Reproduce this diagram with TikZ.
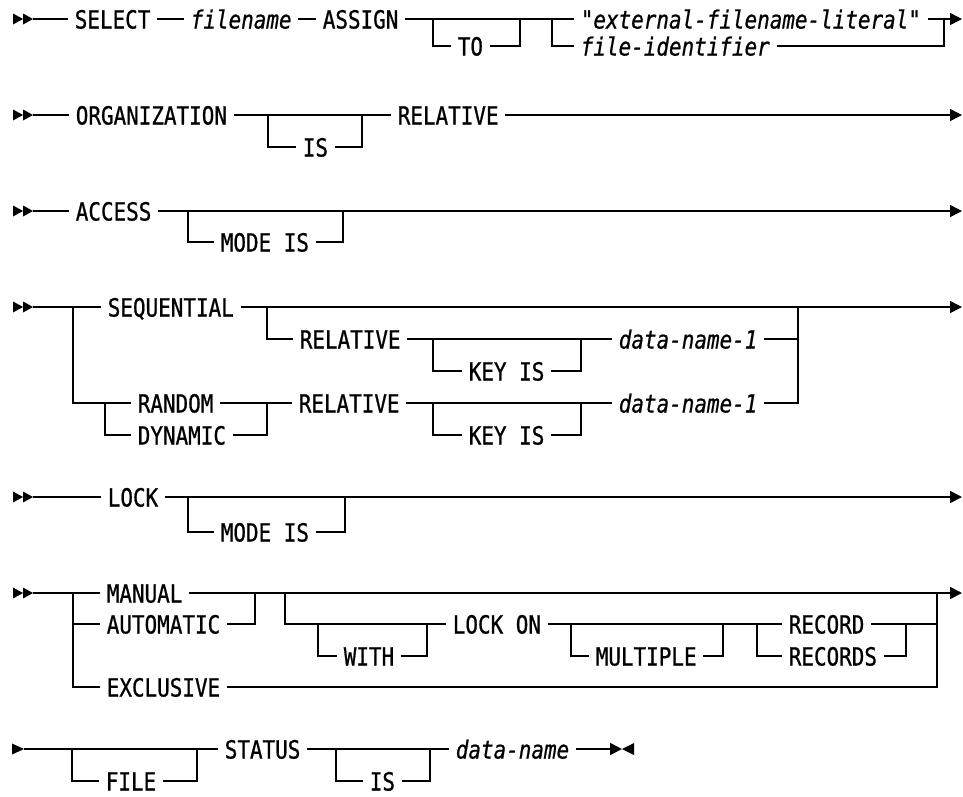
\documentclass[tikz,border=0pt]{standalone}
\usepackage{fontspec}
\newfontfamily\rrfont[FakeStretch=0.837, FakeBold=0.8, ItalicFont={DejaVu Sans Mono Oblique}]{DejaVu Sans Mono}
\usetikzlibrary{arrows.meta}
\begin{document}
\begin{tikzpicture}[x=1pt,y=-1pt, line width=1.6pt,
  kw/.style={anchor=west, inner xsep=6pt, inner ysep=0pt, text height=19pt, text depth=0pt,
             font=\rrfont\fontsize{25}{25}\selectfont},
  var/.style={kw, font=\rrfont\itshape\fontsize{25}{25}\selectfont},
  endarrow/.style={-{Triangle[length=12pt,width=12pt]}},
  dstart/.pic={\fill (0,-5.5) -- (10,0) -- (0,5.5) -- cycle;
               \fill (10,-5.5) -- (20,0) -- (10,5.5) -- cycle;},
  sstart/.pic={\fill (0,-5.5) -- (12,0) -- (0,5.5) -- cycle;},
  bowend/.pic={\fill (0,0) -- (12,-6) -- (12,6) -- cycle;}]
\useasboundingbox (0,0) rectangle (963,796);

% ---------------- Row 1
\pic at (13,19) {dstart};
\coordinate (r1s) at (33,19);
\node[kw] (select) at (68,19) {SELECT};
\node[var] (fname) at (184,19) {filename};
\node[kw] (assign) at (316,19) {ASSIGN};
\coordinate (to-a) at (433,19);
\coordinate (to-b) at (520,19);
\node[kw] (to) at (451,46) {TO};
\coordinate (ch-a) at (552,19);
\node[var] (lit) at (574,19) {"external-filename-literal"};
\node[var] (fid) at (574,46) {file-identifier};
\coordinate (ch-b) at (944,19);
\coordinate (r1e) at (962,19);
\draw (r1s) -- (select.west);
\draw (select.east) -- (fname.west);
\draw (fname.east) -- (assign.west);
\draw (assign.east) -- (lit.west);
\draw (to-a) |- (to.west);
\draw (to.east) -| (to-b);
\draw (ch-a) |- (fid.west);
\draw (lit.east) -- (ch-b);
\draw (fid.east) -| (ch-b);
\draw[endarrow] (ch-b) -- (r1e);

% ---------------- Row 2
\pic at (13,115) {dstart};
\coordinate (r2s) at (33,115);
\node[kw] (org) at (69,115) {ORGANIZATION};
\coordinate (is2a) at (268,115);
\coordinate (is2b) at (362,115);
\node[kw] (is2) at (296,147) {IS};
\node[kw] (rel2) at (391,115) {RELATIVE};
\coordinate (r2e) at (962,115);
\draw (r2s) -- (org.west);
\draw (org.east) -- (rel2.west);
\draw (is2a) |- (is2.west);
\draw (is2.east) -| (is2b);
\draw[endarrow] (rel2.east) -- (r2e);

% ---------------- Row 3
\pic at (13,211) {dstart};
\coordinate (r3s) at (33,211);
\node[kw] (access) at (69,211) {ACCESS};
\coordinate (mi3a) at (188,211);
\coordinate (mi3b) at (343,211);
\node[kw] (mode3) at (214,242) {MODE IS};
\coordinate (r3e) at (962,211);
\draw (r3s) -- (access.west);
\draw[endarrow] (access.east) -- (r3e);
\draw (mi3a) |- (mode3.west);
\draw (mode3.east) -| (mi3b);

% ---------------- Row 4
\pic at (13,307) {dstart};
\coordinate (r4s) at (33,307);
\coordinate (c4a) at (73,307);
\node[kw] (seq) at (101,307) {SEQUENTIAL};
\coordinate (c4b) at (267,307);
\coordinate (c4c) at (798,307);
\coordinate (r4e) at (962,307);
\node[kw] (rel4a) at (293,339) {RELATIVE};
\coordinate (k4a) at (433,339);
\coordinate (k4b) at (581,339);
\node[kw] (key4a) at (462,371) {KEY IS};
\node[var] (dn4a) at (612,339) {data-name-1};
\node[kw] (random) at (131,403) {RANDOM};
\node[kw] (dynamic) at (131,435) {DYNAMIC};
\coordinate (rd-a) at (105,403);
\coordinate (rd-b) at (267,403);
\node[kw] (rel4b) at (292,403) {RELATIVE};
\coordinate (k4c) at (433,403);
\coordinate (k4d) at (581,403);
\node[kw] (key4b) at (462,435) {KEY IS};
\node[var] (dn4b) at (612,403) {data-name-1};
\draw (r4s) -- (seq.west);
\draw[endarrow] (seq.east) -- (r4e);
\draw (c4a) |- (random.west);
\draw (random.east) -- (rel4b.west);
\draw (rd-a) |- (dynamic.west);
\draw (dynamic.east) -| (rd-b);
\draw (c4b) |- (rel4a.west);
\draw (rel4a.east) -- (dn4a.west);
\draw (k4a) |- (key4a.west);
\draw (key4a.east) -| (k4b);
\draw (dn4a.east) -| (c4c);
\draw (rel4b.east) -- (dn4b.west);
\draw (k4c) |- (key4b.west);
\draw (key4b.east) -| (k4d);
\draw (dn4b.east) -| (c4c);

% ---------------- Row 5
\pic at (13,497) {dstart};
\coordinate (r5s) at (33,497);
\node[kw] (lock) at (101,497) {LOCK};
\coordinate (mi5a) at (188,497);
\coordinate (mi5b) at (345,497);
\node[kw] (mode5) at (214,532) {MODE IS};
\coordinate (r5e) at (962,497);
\draw (r5s) -- (lock.west);
\draw[endarrow] (lock.east) -- (r5e);
\draw (mi5a) |- (mode5.west);
\draw (mode5.east) -| (mi5b);

% ---------------- Row 6
\pic at (13,593) {dstart};
\coordinate (r6s) at (33,593);
\coordinate (c6a) at (73,593);
\coordinate (c6aa) at (73,624);
\node[kw] (manual) at (100,593) {MANUAL};
\node[kw] (auto) at (100,624) {AUTOMATIC};
\node[kw] (excl) at (100,687) {EXCLUSIVE};
\coordinate (c6b) at (255,593);
\coordinate (g6a) at (285,593);
\node[kw] (lockon) at (446,624) {LOCK ON};
\coordinate (w6a) at (318,624);
\coordinate (w6b) at (427,624);
\node[kw] (with) at (337,656) {WITH};
\coordinate (m6a) at (571,624);
\coordinate (m6b) at (723,624);
\node[kw] (mult) at (589,656) {MULTIPLE};
\coordinate (rc-a) at (757,624);
\coordinate (rc-b) at (906,624);
\node[kw] (record) at (782,624) {RECORD};
\node[kw] (records) at (782,656) {RECORDS};
\coordinate (c6c) at (937,593);
\coordinate (r6e) at (962,593);
\draw (r6s) -- (manual.west);
\draw[endarrow] (manual.east) -- (r6e);
\draw (c6a) |- (excl.west);
\draw (c6aa) -- (auto.west);
\draw (auto.east) -| (c6b);
\draw (g6a) |- (lockon.west);
\draw (w6a) |- (with.west);
\draw (with.east) -| (w6b);
\draw (lockon.east) -- (record.west);
\draw (m6a) |- (mult.west);
\draw (mult.east) -| (m6b);
\draw (rc-a) |- (records.west);
\draw (records.east) -| (rc-b);
\draw (record.east) -| (c6c);
\draw (excl.east) -| (c6c);

% ---------------- Row 7
\pic at (12,749) {sstart};
\coordinate (r7s) at (24,749);
\coordinate (f7a) at (72,749);
\coordinate (f7b) at (197,749);
\node[kw] (file) at (99,781) {FILE};
\node[kw] (status) at (218,749) {STATUS};
\coordinate (i7a) at (336,749);
\coordinate (i7b) at (430,749);
\node[kw] (is7) at (363,781) {IS};
\node[var] (dn7) at (449,749) {data-name};
\coordinate (r7e) at (622,749);
\draw (r7s) -- (status.west);
\draw (f7a) |- (file.west);
\draw (file.east) -| (f7b);
\draw (status.east) -- (dn7.west);
\draw (i7a) |- (is7.west);
\draw (is7.east) -| (i7b);
\draw[endarrow] (dn7.east) -- (r7e);
\pic at (r7e) {bowend};
\end{tikzpicture}
\end{document}
